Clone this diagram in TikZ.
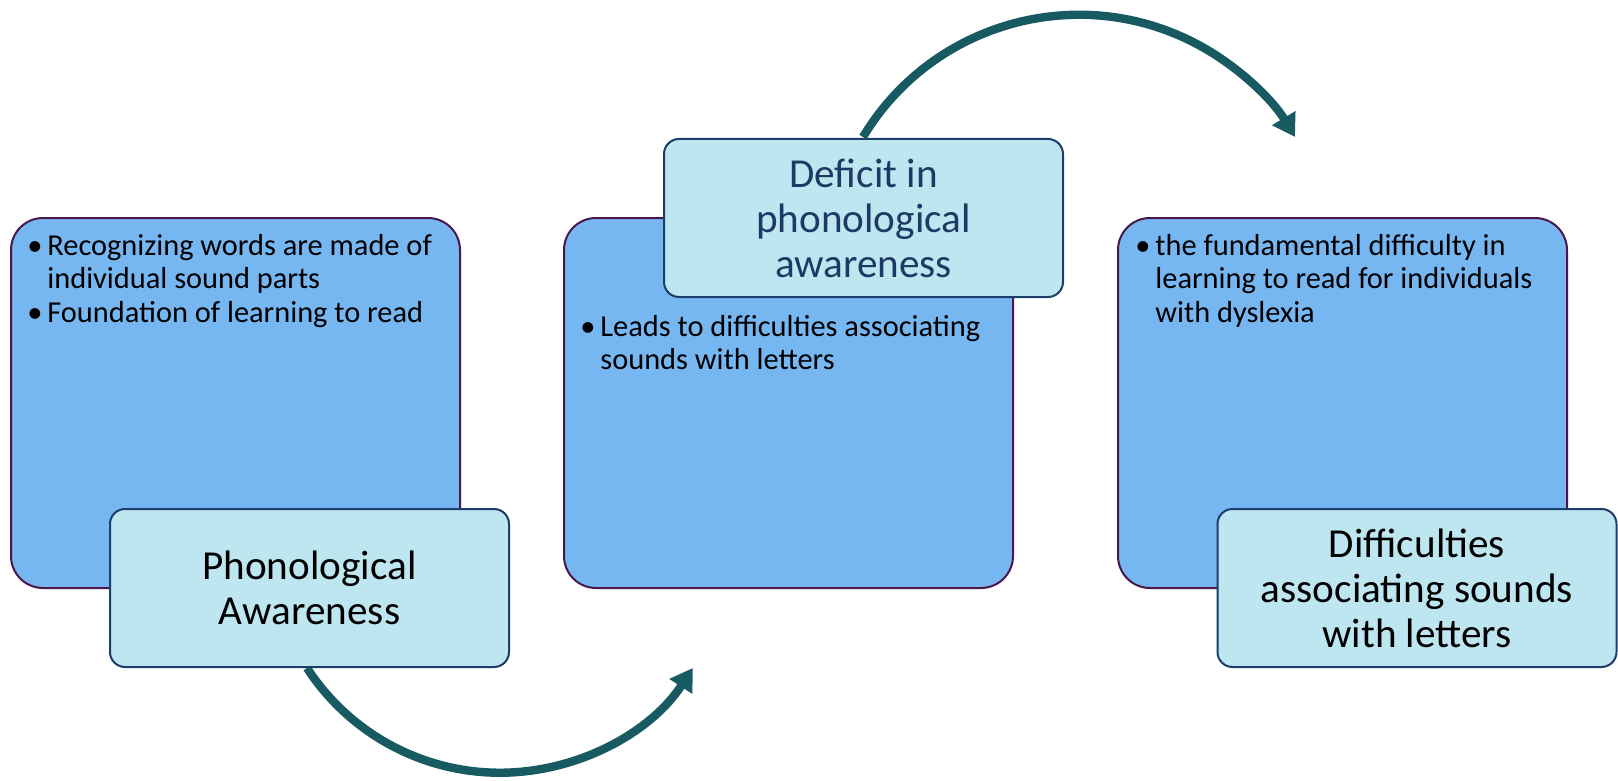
\documentclass[tikz,border=0pt]{standalone}
\usepackage{fontspec}
\setmainfont{Carlito}
\usetikzlibrary{arrows.meta}

\definecolor{boxblue}{HTML}{76B6F1}
\definecolor{boxedge}{HTML}{4A1848}
\definecolor{tagfill}{HTML}{BEE6F0}
\definecolor{tagedge}{HTML}{1C3E6B}
\definecolor{flowteal}{HTML}{185A62}
\definecolor{navytext}{HTML}{1C3A64}

\newcommand{\bulletfont}{\fontsize{15.2}{16.5}\selectfont}
\newcommand{\titlefont}{\fontsize{20.6}{22.5}\selectfont}
\newcommand{\itm}{\makebox[10pt][l]{\textbullet}}

\begin{document}
\begin{tikzpicture}[x=0.5pt,y=-0.5pt,
  panel/.style={draw=boxedge, line width=1pt, fill=boxblue, rounded corners=16pt,
    minimum width=224.5pt, minimum height=185pt, inner sep=0pt},
  tag/.style={draw=tagedge, line width=1pt, fill=tagfill, rounded corners=7.5pt,
    minimum width=199.5pt, minimum height=79pt, inner sep=0pt, align=center, font=\titlefont},
  bullets/.style={anchor=base west, inner sep=0pt, font=\bulletfont},
  flow/.style={draw=flowteal, line width=4.2pt, -{Triangle[length=11pt,width=13pt]}}]

\useasboundingbox (0,0) rectangle (1618,781);

% large panels
\node[panel] (p1) at (235.5,403) {};
\node[panel] (p2) at (788.5,403) {};
\node[panel] (p3) at (1342.5,403) {};

% bullet texts
\node[bullets] (b1) at (27,256) {\begin{tabular}[t]{@{}l@{}l@{}}
  \itm & Recognizing words are made of\\
       & individual sound parts\\
  \itm & Foundation of learning to read
\end{tabular}};
\node[bullets] (b2) at (580,336) {\begin{tabular}[t]{@{}l@{}l@{}}
  \itm & Leads to difficulties associating\\
       & sounds with letters
\end{tabular}};
\node[bullets] (b3) at (1135,256) {\begin{tabular}[t]{@{}l@{}l@{}}
  \itm & the fundamental difficulty in\\
       & learning to read for individuals\\
       & with dyslexia
\end{tabular}};

% curved arrows, passing under the title tags
\coordinate (a1s) at (307,668);
\coordinate (a2s) at (863,137);
\draw[flow] (a1s) arc[start angle=147, end angle=33, radius=230];
\draw[flow] (a2s) arc[start angle=-149, end angle=-31, radius=252];

% title tags
\node[tag] (t1) at (309.5,588) {Phonological\\Awareness};
\node[tag, text=navytext] (t2) at (863.5,218) {Deficit in\\phonological\\awareness};
\node[tag] (t3) at (1417,588) {Difficulties\\associating sounds\\with letters};

\end{tikzpicture}
\end{document}
